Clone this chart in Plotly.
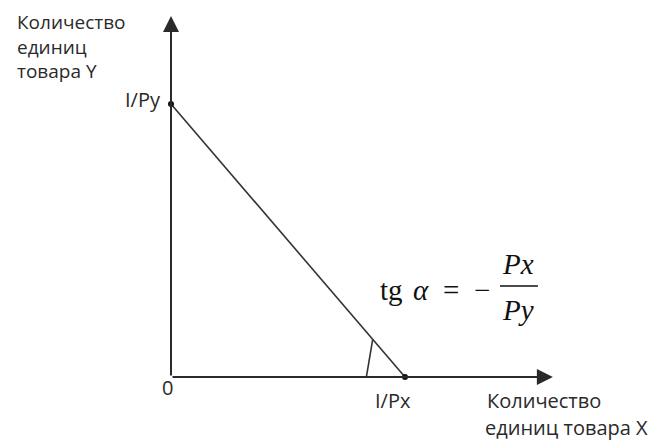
import plotly.graph_objects as go

# Budget line data (intercepts I/Px and I/Py normalised to 1)
budget_x = [0, 1]
budget_y = [1, 0]
points_x = [0, 1]
points_y = [1, 0]
point_labels = ["I/Py", "I/Px"]
y_title_lines = ["Количество", "единиц", "товара Y"]
x_title_lines = ["Количество", "единиц товара X"]
axis_ends = {"x": 1.632, "y": 1.322}
angle_mark_x = [0.835, 0.862]
angle_mark_y = [0, 0.138]

fig = go.Figure()

fig.add_trace(go.Scatter(x=budget_x, y=budget_y, mode="lines",
                         line=dict(color="#333333", width=1.6), hoverinfo="skip"))
fig.add_trace(go.Scatter(x=angle_mark_x, y=angle_mark_y, mode="lines",
                         line=dict(color="#333333", width=1.6), hoverinfo="skip"))
fig.add_trace(go.Scatter(x=points_x, y=points_y, mode="markers",
                         marker=dict(color="#111111", size=6), hoverinfo="skip"))

# Axes with arrows
for tip, tail in [((0, axis_ends["y"]), (0, 0)), ((axis_ends["x"], 0), (0, 0))]:
    fig.add_annotation(x=tip[0], y=tip[1], ax=tail[0], ay=tail[1],
                       xref="x", yref="y", axref="x", ayref="y",
                       showarrow=True, arrowhead=2, arrowsize=1.6, arrowwidth=2,
                       arrowcolor="#2a2a2a", text="")

lab_font = dict(family="Open Sans", size=20, color="#2a2a2a")

fig.add_annotation(x=-0.034, y=1.015, text=point_labels[0], showarrow=False,
                   xanchor="right", yanchor="middle", font=lab_font)
fig.add_annotation(x=0.9487, y=-0.0879, text=point_labels[1], showarrow=False,
                   xanchor="center", yanchor="middle", font=lab_font)
fig.add_annotation(x=-0.0171, y=-0.0403, text="0", showarrow=False,
                   xanchor="center", yanchor="middle", font=lab_font)

fig.add_annotation(x=-0.6667, y=1.2099, text="<br>".join(y_title_lines), showarrow=False,
                   xanchor="left", yanchor="middle", align="left",
                   font=dict(family="Open Sans", size=19, color="#2a2a2a"))
fig.add_annotation(x=1.342, y=-0.0879, text=x_title_lines[0], showarrow=False,
                   xanchor="left", yanchor="middle", font=lab_font)
fig.add_annotation(x=1.3333, y=-0.1868, text=x_title_lines[1], showarrow=False,
                   xanchor="left", yanchor="middle", font=lab_font)

# Formula tg α = −Px/Py
f_font = dict(family="Liberation Serif", size=29, color="#111111")
for txt, xx, anchor in [("tg", 0.8846, "left"), ("<i>α</i>", 1.068, "center"),
                        ("=", 1.1966, "center"), ("−", 1.329, "center")]:
    fig.add_annotation(x=xx, y=0.3187, text=txt, showarrow=False,
                       xanchor=anchor, yanchor="middle", font=f_font)
fig.add_annotation(x=1.483, y=0.4139, text="<i>Px</i>", showarrow=False,
                   xanchor="center", yanchor="middle", font=f_font)
fig.add_annotation(x=1.483, y=0.2454, text="<i>Py</i>", showarrow=False,
                   xanchor="center", yanchor="middle", font=f_font)
fig.add_shape(type="line", x0=1.406, x1=1.568, y0=0.3333, y1=0.3333,
              line=dict(color="#111111", width=1.5))

fig.update_layout(
    width=668, height=443,
    margin=dict(l=0, r=0, t=0, b=0),
    paper_bgcolor="white", plot_bgcolor="white",
    showlegend=False,
    xaxis=dict(range=[-0.6966, 2.1581], visible=False, fixedrange=True),
    yaxis=dict(range=[-0.2711, 1.3516], visible=False, fixedrange=True),
)

fig.write_html("out.html")
